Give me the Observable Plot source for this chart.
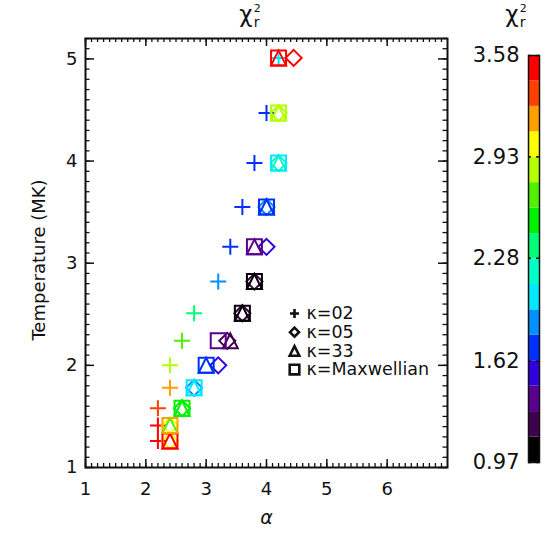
<!DOCTYPE html>
<html><head><meta charset="utf-8">
<script src="https://cdn.jsdelivr.net/npm/d3@7"></script>
<script src="https://cdn.jsdelivr.net/npm/@observablehq/plot@0.6"></script>
<style>
body{margin:0;background:#fff}
#wrap{position:relative;width:545px;height:545px;background:#fff}
#wrap svg{position:absolute;left:0;top:0}
</style></head><body><div id="wrap"></div>
<script>
// ---- data ----
const temperatures = [1.26,1.41,1.58,1.78,2.00,2.24,2.51,2.82,3.16,3.55,3.98,4.47,5.01];
const kappaLabels = ["02","05","33","Maxwellian"];
const alphaK2   = [2.2,2.2,2.2,2.4,2.4,2.6,2.8,3.2,3.4,3.6,3.8,4.0,4.2];
const chiK2     = [3.50,3.50,3.33,3.17,2.84,2.68,2.36,1.87,1.70,1.70,1.70,1.70,2.03];
const alphaK5   = [2.4,2.4,2.6,2.8,3.2,3.35,3.6,3.8,4.0,4.0,4.2,4.2,4.45];
const chiK5     = [3.01,3.01,2.52,1.87,1.54,1.21,1.21,1.21,1.54,1.87,2.19,2.84,3.50];
const alphaK33  = [2.4,2.4,2.6,2.8,3.0,3.4,3.6,3.8,3.8,4.0,4.2,4.2,4.2];
const chiK33    = [3.50,2.68,2.52,2.03,1.70,1.21,1.05,1.05,1.38,1.70,2.19,2.84,3.50];
const alphaKMax = [2.4,2.4,2.6,2.8,3.0,3.2,3.6,3.8,3.8,4.0,4.2,4.2,4.2];
const chiKMax   = [3.50,3.17,2.52,2.03,1.70,1.38,1.05,1.05,1.38,1.70,2.03,2.84,3.50];
const xTicks = [1,2,3,4,5,6];
const yTicks = [1,2,3,4,5];
const colorTicks = [0.97,1.62,2.28,2.93,3.58];
const bandColors = ["#000000","#400050","#5a0090","#3000e0","#0030ff","#0090ff","#00e8ff","#00ffc8",
                    "#00ff78","#00f000","#50f000","#b4ff00","#ffff00","#ffa000","#ff4000","#ff0000"];

// ---- derived ----
const cMin = colorTicks[0], cMax = colorTicks[colorTicks.length-1];
const nb = bandColors.length;
const thresholds = d3.range(1, nb).map(i => cMin + i*(cMax-cMin)/nb);
const bands = d3.range(nb).map(i => ({lo: cMin + i*(cMax-cMin)/nb, hi: cMin + (i+1)*(cMax-cMin)/nb, mid: cMin + (i+0.5)*(cMax-cMin)/nb}));
const colorScale = {type: "threshold", domain: thresholds, range: bandColors};

const series = [alphaK2, alphaK5, alphaK33, alphaKMax];
const chis = [chiK2, chiK5, chiK33, chiKMax];
const rows = [];
kappaLabels.forEach((k, ki) => temperatures.forEach((t, i) => rows.push({kappa: k, T: t, alpha: series[ki][i], chi: chis[ki][i]})));

// custom IDL-like symbols
const h = s => Math.sqrt(s/Math.PI);
const symPlus = {draw(c, s){const r=h(s); c.moveTo(-r,0); c.lineTo(r,0); c.moveTo(0,-r); c.lineTo(0,r);}};
const symDiamond = {draw(c, s){const r=h(s); c.moveTo(0,-r); c.lineTo(r,0); c.lineTo(0,r); c.lineTo(-r,0); c.closePath();}};
const symTriangle = {draw(c, s){const r=h(s); c.moveTo(0,-r); c.lineTo(r,r); c.lineTo(-r,r); c.closePath();}};
const symSquare = {draw(c, s){const r=h(s); c.moveTo(-r,-r); c.lineTo(r,-r); c.lineTo(r,r); c.lineTo(-r,r); c.closePath();}};
const symbols = [symPlus, symDiamond, symTriangle, symSquare];
const sizes = [8, 8, 7.5, 7.5];
const legendSizes = [4.5, 4.5, 4.8, 4.8];

const W = 545, H = 545, mL = 85, mR = 98, mT = 38, mB = 78;
const innerW = W - mL - mR, innerH = H - mT - mB;
const xMinor = d3.range(10, 70).map(i => i/10);
const yMinor = d3.range(10, 53).map(i => i/10);
const ink = "#111";
const font = "DejaVu Sans";

const tickMarks = [
  Plot.ruleX(xMinor, {x: d => d, insetTop: innerH - 4, stroke: ink, strokeWidth: 1.3}),
  Plot.ruleX(xMinor, {x: d => d, insetBottom: innerH - 4, stroke: ink, strokeWidth: 1.3}),
  Plot.ruleX(xTicks, {x: d => d, insetTop: innerH - 8, stroke: ink, strokeWidth: 1.5}),
  Plot.ruleX(xTicks, {x: d => d, insetBottom: innerH - 8, stroke: ink, strokeWidth: 1.5}),
  Plot.ruleY(yMinor, {y: d => d, insetRight: innerW - 4.5, stroke: ink, strokeWidth: 1.3}),
  Plot.ruleY(yMinor, {y: d => d, insetLeft: innerW - 4.5, stroke: ink, strokeWidth: 1.3}),
  Plot.ruleY(yTicks, {y: d => d, insetRight: innerW - 9, stroke: ink, strokeWidth: 1.5}),
  Plot.ruleY(yTicks, {y: d => d, insetLeft: innerW - 9, stroke: ink, strokeWidth: 1.5})
];

const dataMarks = kappaLabels.map((k, ki) => Plot.dot(rows.filter(d => d.kappa === k), {
  x: "alpha", y: "T", stroke: "chi", fill: "none", symbol: symbols[ki], r: sizes[ki], strokeWidth: 2
}));

const legendMarks = kappaLabels.flatMap((k, ki) => [
  Plot.dot([k], {frameAnchor: "top-left", dx: 209, dy: 275 + ki*18.7, symbol: symbols[ki], r: legendSizes[ki], stroke: ink, fill: "none", strokeWidth: 2.6}),
  Plot.text([k], {frameAnchor: "top-left", dx: 221, dy: 275 + ki*18.7, text: d => "κ=" + d, textAnchor: "start", lineAnchor: "middle", fontSize: 17.5, fill: ink, ariaLabel: "legend-text"})
]);

const main = Plot.plot({
  width: W, height: H, marginLeft: mL, marginRight: mR, marginTop: mT, marginBottom: mB,
  x: {domain: [1, 7], ticks: xTicks, tickFormat: d3.format("d"), tickSize: 0, tickPadding: 15, label: null},
  y: {domain: [1, 5.2], ticks: yTicks, tickFormat: d3.format("d"), tickSize: 0, tickPadding: 8, label: null},
  color: colorScale,
  style: {fontFamily: font, fontSize: "18px", color: ink, background: "transparent"},
  marks: [
    ...dataMarks,
    ...legendMarks,
    ...tickMarks,
    Plot.frame({stroke: ink, strokeWidth: 2}),
    Plot.text(["α"], {frameAnchor: "bottom", dy: 50, lineAnchor: "middle", fontSize: 19, fontStyle: "italic", fill: ink})
  ]
});
d3.select(main).selectAll("g[aria-label='legend-text'] text").attr("letter-spacing", 1.2);

const cbL = 528, cbR = 539, cbT = 55, cbB = 462;
const cb = Plot.plot({
  width: W, height: H, marginLeft: cbL, marginRight: W - cbR, marginTop: cbT, marginBottom: H - cbB,
  y: {domain: [cMin, cMax], ticks: colorTicks, tickFormat: d => d.toFixed(2), tickSize: 0, tickPadding: 9, label: null},
  color: colorScale,
  style: {fontFamily: font, fontSize: "21px", color: ink, background: "transparent"},
  marks: [
    Plot.barY(bands, {y1: "lo", y2: "hi", fill: "mid"}),
    Plot.ruleY(colorTicks, {y: d => d, insetRight: (cbR - cbL) - 3, stroke: ink, strokeWidth: 1.5}),
    Plot.ruleY(colorTicks, {y: d => d, insetLeft: (cbR - cbL) - 3, stroke: ink, strokeWidth: 1.5}),
    Plot.frame({stroke: ink, strokeWidth: 1.5})
  ]
});

// y-axis title (rotated)
d3.select(main).append("text")
  .attr("transform", "translate(40,260) rotate(-90)")
  .attr("text-anchor", "middle").attr("dominant-baseline", "middle")
  .attr("font-family", font).attr("font-size", 18).attr("fill", ink)
  .text("Temperature (MK)");

// chi-square titles (χ with stacked ² and r)
function chiTitle(svg, x, y) {
  const t = d3.select(svg).append("text")
    .attr("x", x).attr("y", y)
    .attr("font-family", font).attr("fill", ink).attr("font-size", 23);
  t.append("tspan").text("χ");
  t.append("tspan").attr("font-size", 11).attr("dx", 1).attr("dy", -10).text("2");
  t.append("tspan").attr("font-size", 14).attr("dx", -7).attr("dy", 15).text("r");
}
chiTitle(main, 250, 22);
chiTitle(cb, 516, 22);

const wrap = document.getElementById("wrap");
wrap.appendChild(main);
wrap.appendChild(cb);
</script></body></html>
